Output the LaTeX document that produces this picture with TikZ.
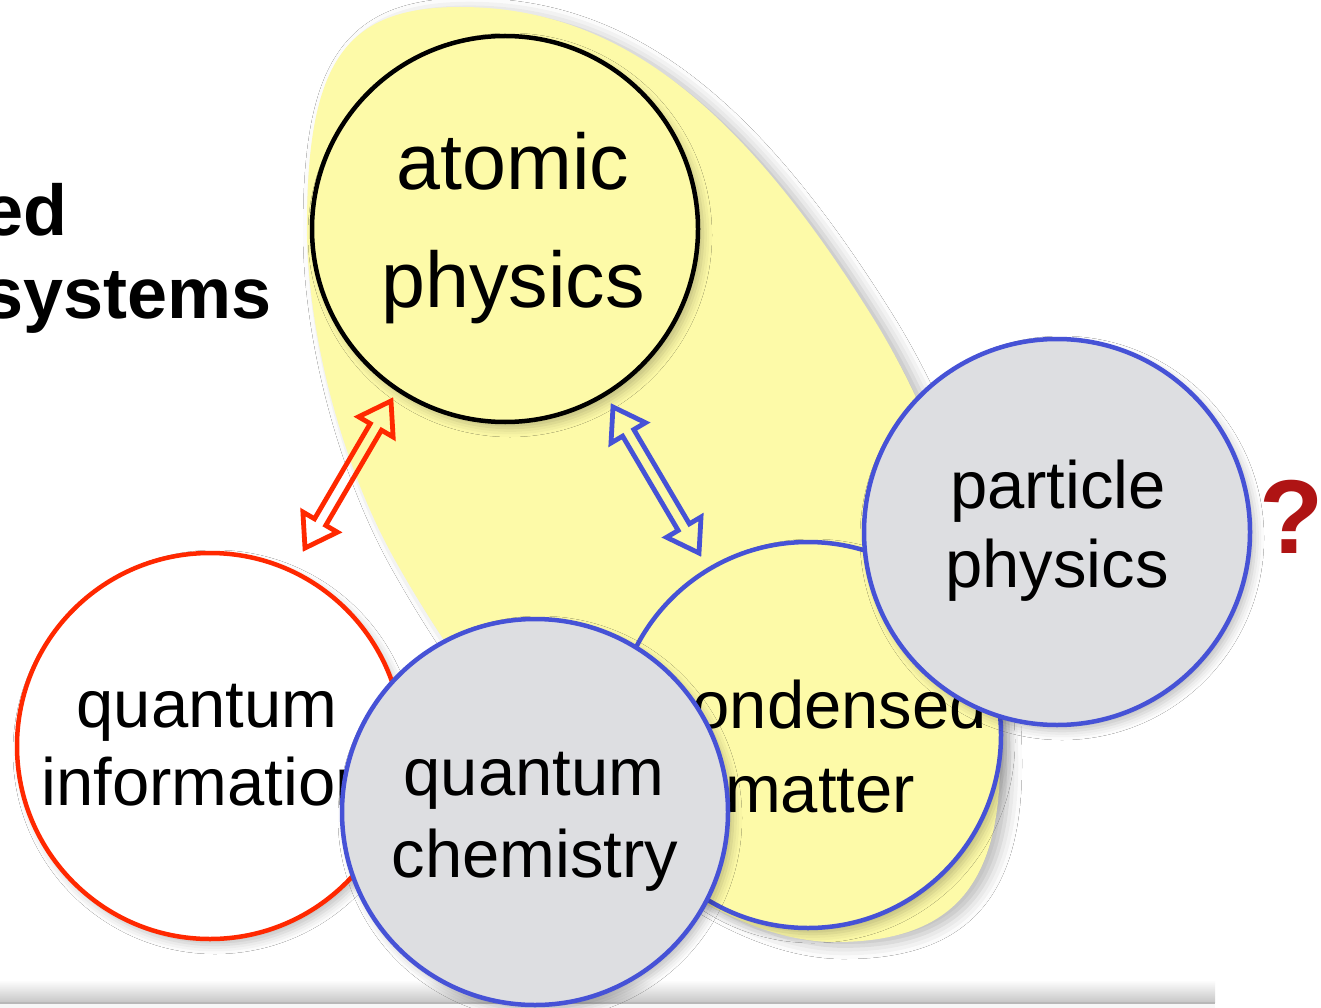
\documentclass[tikz,border=0pt]{standalone}
\usepackage{fontspec}
\setmainfont{Liberation Sans}
\usetikzlibrary{calc,shadows.blur}
\definecolor{ylw}{RGB}{253,250,168}
\definecolor{gfill}{RGB}{221,222,225}
\definecolor{bline}{RGB}{70,82,214}
\definecolor{rline}{RGB}{255,40,0}
\definecolor{qred}{RGB}{175,20,20}
\tikzset{
  circ/.style={circle, minimum size=386pt, inner sep=0pt, line width=4.5pt},
  lbl/.style={anchor=base, inner sep=0pt, font=\fontsize{67}{67}\selectfont},
  shad/.style={blur shadow={shadow xshift=5pt, shadow yshift=-6pt, shadow blur radius=9pt, shadow opacity=25}},
  bigshad/.style={blur shadow={shadow xshift=9pt, shadow yshift=-4pt, shadow blur radius=13pt, shadow opacity=28}},
  arr/.style={line width=4.8pt, line join=miter},
}
\newcommand{\dblarr}[3]{%
  \draw[#1] (#2)
   -- ($(#2)!30pt!(#3)!20pt!90:(#3)$)
   -- ($(#2)!30pt!(#3)!6.5pt!90:(#3)$)
   -- ($(#3)!30pt!(#2)!6.5pt!-90:(#2)$)
   -- ($(#3)!30pt!(#2)!20pt!-90:(#2)$)
   -- (#3)
   -- ($(#3)!30pt!(#2)!20pt!90:(#2)$)
   -- ($(#3)!30pt!(#2)!6.5pt!90:(#2)$)
   -- ($(#2)!30pt!(#3)!6.5pt!-90:(#3)$)
   -- ($(#2)!30pt!(#3)!20pt!-90:(#3)$)
   -- cycle;}
\begin{document}
\begin{tikzpicture}[x=1pt,y=-1pt]
\useasboundingbox (0,0) rectangle (1321,1008);
\clip (0,0) rectangle (1321,1008);
\fill[white] (0,0) rectangle (1321,1008);
% bottom band
\shade[top color=white, bottom color=black!22] (0,980) rectangle (1215,1002);
\fill[black!28] (0,1002) rectangle (1215,1004);
\fill[black!3] (0,1004) rectangle (1215,1008);
% yellow region
\path[fill=ylw, bigshad] (460,7) .. controls (614,7) and (737,100) .. (873,318)
  .. controls (949,440) and (1000,609) .. (1000,760)
  .. controls (1000,887) and (950.5,942) .. (835,942)
  .. controls (700,942) and (524,789) .. (395,560)
  .. controls (342,466) and (307,333) .. (307,227)
  .. controls (307,62) and (345,7) .. (460,7) -- cycle;
% atomic physics
\node[circ, draw=black, fill=ylw, shad] (atom) at (505,229) {};
\node[lbl, font=\fontsize{79}{79}\selectfont] (atom1) at (513,190) {atomic};
\node[lbl, font=\fontsize{79}{79}\selectfont] (atom2) at (513,307) {physics};
% arrows
\coordinate (ra1) at (305,548);
\coordinate (ra2) at (391,401);
\coordinate (ba1) at (613,407);
\coordinate (ba2) at (699,553);
\dblarr{arr, draw=rline}{ra1}{ra2}
\dblarr{arr, draw=bline}{ba1}{ba2}
% quantum information
\node[circ, draw=rline, fill=white, shad] (qi) at (210,746) {};
\node[lbl] (qi1) at (207,727) {quantum};
\node[lbl] (qi2) at (207,805) {information};
% condensed matter
\node[circ, draw=bline, fill=ylw, shad] (cm) at (808,735) {};
\node[lbl] (cm1) at (823,728) {condensed};
\node[lbl] (cm2) at (820,812) {matter};
% quantum chemistry
\node[circ, draw=bline, fill=gfill, shad] (qc) at (535,812) {};
\node[lbl] (qc1) at (534,795) {quantum};
\node[lbl] (qc2) at (535,877) {chemistry};
% particle physics
\node[circ, draw=bline, fill=gfill, shad] (pp) at (1057,532) {};
\node[lbl] (pp1) at (1058,508) {particle};
\node[lbl] (pp2) at (1057,587) {physics};
% question mark
\node[anchor=base, inner sep=0pt, text=qred, font=\bfseries\fontsize{105}{105}\selectfont] (qm) at (1292,553) {?};
% left text
\node[anchor=base east, inner sep=0pt, font=\bfseries\fontsize{72}{72}\selectfont] (ed) at (68,236) {ed};
\node[anchor=base east, inner sep=0pt, font=\bfseries\fontsize{72}{72}\selectfont] (sys) at (272,318) {systems};
\end{tikzpicture}
\end{document}
